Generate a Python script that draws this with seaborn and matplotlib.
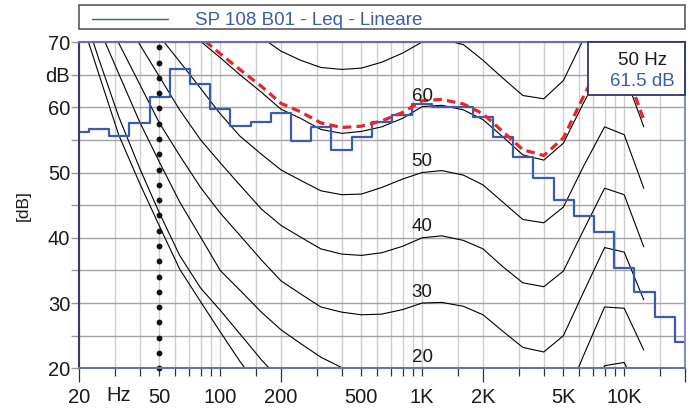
import numpy as np
import pandas as pd
import matplotlib
matplotlib.use("Agg")
import matplotlib.pyplot as plt
from matplotlib.patches import Rectangle
from matplotlib.lines import Line2D
from matplotlib.ticker import FixedLocator, FixedFormatter
import seaborn as sns

# ---------------- data ----------------
FREQ = [20, 25, 31.5, 40, 50, 63, 80, 100, 125, 160, 200, 250, 315, 400, 500,
        630, 800, 1000, 1250, 1600, 2000, 2500, 3150, 4000, 5000, 6300, 8000,
        10000, 12500]

CONTOUR_PHON = [0, 10, 20, 30, 40, 50, 60, 70]
C0 = [74.5, 65.2, 55.7, 48.3, 41.8, 35.2, 30.2, 25.6, 21.1, 16.6, 13.3, 10.5, 8.0,
      5.0, 3.8, 2.5, 1.2, 0.0, 0.2, -0.5, -1.8, -4.3, -6.8, -7.5, -5.5, 2.5, 11.0,
      11.8, 5.5]
C10 = [76.7, 67.5, 58.5, 50.6, 43.8, 37.3, 32.3, 28.9, 25.3, 21.3, 18.1, 16.0, 14.2,
       12.8, 11.8, 11.0, 10.4, 10.0, 10.1, 9.5, 8.2, 5.7, 3.2, 2.5, 4.5, 12.5, 20.4,
       20.9, 14.5]
C20 = [79.9, 72.3, 65.1, 57.7, 51.6, 45.5, 40.1, 35.0, 32.0, 28.6, 25.9, 23.8, 21.7,
       20.1, 19.6, 19.4, 19.6, 20.1, 20.1, 19.5, 18.2, 15.7, 13.2, 12.5, 14.5, 22.0,
       29.4, 29.2, 22.8]
C30 = [82.5, 76.0, 69.8, 63.5, 57.6, 52.6, 47.7, 43.8, 40.4, 36.6, 33.4, 31.4, 29.4,
       28.6, 28.2, 28.3, 29.0, 30.0, 30.1, 29.5, 28.2, 25.7, 23.2, 22.5, 25.0, 31.7,
       38.5, 37.8, 30.5]
C40 = [86.5, 80.7, 75.0, 69.6, 64.7, 59.6, 55.0, 51.5, 48.1, 44.4, 41.9, 40.1, 38.3,
       37.5, 37.3, 37.7, 38.7, 40.0, 40.3, 39.6, 38.3, 35.6, 33.1, 32.5, 34.9, 41.2,
       47.6, 46.6, 38.6]
C50 = [89.5, 84.4, 79.5, 74.9, 70.9, 67.0, 62.9, 59.0, 55.6, 52.8, 50.4, 48.8, 47.2,
       46.6, 46.7, 47.7, 49.0, 50.0, 50.3, 49.6, 48.1, 45.5, 42.8, 42.3, 44.7, 51.0,
       57.0, 55.8, 47.6]
C60 = [95.0, 90.5, 86.0, 81.7, 77.8, 74.0, 70.1, 67.6, 65.0, 62.3, 59.7, 58.3, 56.6,
       56.0, 56.3, 57.0, 58.3, 60.1, 60.3, 59.6, 58.1, 55.5, 52.7, 51.9, 54.5, 60.7,
       66.8, 65.2, 57.0]
C70 = [100.0, 97.0, 93.5, 89.5, 86.0, 82.0, 78.5, 75.5, 73.0, 70.7, 68.6, 67.2, 66.1,
       65.8, 66.0, 66.9, 68.3, 70.0, 70.4, 69.6, 67.2, 64.5, 61.8, 61.3, 64.1, 70.5,
       76.0, 75.0, 66.5]
CONTOURS = [C0, C10, C20, C30, C40, C50, C60, C70]

# contour matching the measured spectrum (red dashed)
MATCH_CURVE = [96.0, 91.5, 87.0, 82.7, 78.8, 74.7, 70.7, 68.2, 65.8, 63.2, 60.6, 59.3,
               57.6, 56.9, 57.1, 57.9, 59.2, 61.0, 61.2, 60.5, 59.0, 56.3, 53.5, 52.6,
               55.3, 61.7, 68.0, 66.3, 58.1]

SPEC_FREQ = FREQ + [16000, 20000]
SPEC_LEVEL = [56.2, 56.7, 55.6, 57.6, 61.5, 65.8, 63.5, 59.7, 57.1, 57.8, 59.1, 54.8,
              56.9, 53.4, 55.5, 57.7, 58.8, 60.5, 60.1, 60.1, 58.5, 55.5, 52.4, 49.1,
              45.8, 43.4, 40.9, 35.3, 31.7, 27.9, 24.1]

LEGEND_LABEL = "SP 108 B01 - Leq - Lineare"
CURSOR_FREQ = 50
CURSOR_LEVEL = 61.5
LABELED_PHON = [20, 30, 40, 50, 60]

X_MAJOR = [20, 200, 2000, 20000]
X_MAJOR_LABELS = ["20", "200", "2K", ""]
X_MINOR = [30, 40, 50, 60, 70, 80, 90, 100, 150, 300, 400, 500, 600, 700, 800, 900,
           1000, 1500, 3000, 4000, 5000, 6000, 7000, 8000, 9000, 10000, 15000]
X_MINOR_LABELS = ["", "", "50", "", "", "", "", "100", "", "", "", "500", "", "", "",
                  "", "1K", "", "", "", "5K", "", "", "", "", "10K", ""]
Y_TICKS = [20, 25, 30, 35, 40, 45, 50, 55, 60, 65, 70]
Y_LABELS = ["20", "", "30", "", "40", "", "50", "", "60", "dB", "70"]

# ---------------- style ----------------
BLUE = "#3b5bab"
RED = "#e8242c"
sns.set_theme(style="white")
plt.rcParams["font.family"] = ["Liberation Sans", "DejaVu Sans"]

W, H = 695, 412
fig = plt.figure(figsize=(W / 100, H / 100), dpi=100, facecolor="white")
ax_l, ax_r, ax_t, ax_b = 79, 685, 42, 368.3
ax = fig.add_axes([ax_l / W, 1 - ax_b / H, (ax_r - ax_l) / W, (ax_b - ax_t) / H])
ax.set_facecolor("white")
ax.set_xscale("log")
ax.set_xlim(20, 20000)
ax.set_ylim(20, 70)

# equal loudness contours
rows = []
for phon, vals in zip(CONTOUR_PHON, CONTOURS):
    for f, v in zip(FREQ, vals):
        rows.append((phon, f, v))
df = pd.DataFrame(rows, columns=["phon", "freq", "level"])
sns.lineplot(data=df, x="freq", y="level", units="phon", estimator=None, sort=False,
             color="black", lw=0.8, ax=ax, legend=False, zorder=2)

# spectrum (1/3 octave steps)
edges = [SPEC_FREQ[0] / 2 ** (1 / 6)]
edges += [np.sqrt(a * b) for a, b in zip(SPEC_FREQ[:-1], SPEC_FREQ[1:])]
edges += [SPEC_FREQ[-1] * 2 ** (1 / 6)]
step_y = SPEC_LEVEL + [SPEC_LEVEL[-1]]
sns.lineplot(x=edges, y=step_y, estimator=None, sort=False, drawstyle="steps-post",
             color=BLUE, lw=1.6, ax=ax, zorder=3)

# matching contour, red dashed
n_before = len(ax.lines)
sns.lineplot(x=FREQ, y=MATCH_CURVE, estimator=None, sort=False, color=RED, lw=2.3,
             ax=ax, zorder=4)
for ln in ax.lines[n_before:]:
    ln.set_linestyle((0, (2.7, 1.6)))
    ln.set_dash_capstyle("butt")

# cursor dotted line (round dots every ~15 px from the bottom)
dot_y = np.arange(20, 70.01, 2.342)
ax.plot(np.full(len(dot_y), CURSOR_FREQ), dot_y, linestyle="none", marker="o",
        markersize=4.2, markeredgewidth=0, color="#111111", zorder=5, clip_on=False)

# contour labels
for phon in LABELED_PHON:
    ax.text(1000, phon + 1.0, str(phon), ha="center", va="baseline",
            fontsize=13.5, color="#1a1a1a", zorder=6)

# ticks and grid
ax.xaxis.set_major_locator(FixedLocator(X_MAJOR))
ax.xaxis.set_major_formatter(FixedFormatter(X_MAJOR_LABELS))
ax.xaxis.set_minor_locator(FixedLocator(X_MINOR))
ax.xaxis.set_minor_formatter(FixedFormatter(X_MINOR_LABELS))
ax.set_yticks(Y_TICKS)
ax.set_yticklabels(Y_LABELS)
ax.tick_params(axis="x", which="major", length=10, width=0.9, color="#333333",
               pad=4.3, labelsize=14.5, labelcolor="#1a1a1a", bottom=True)
ax.tick_params(axis="x", which="minor", length=5.4, width=0.9, color="#333333",
               pad=9.0, labelsize=14.5, labelcolor="#1a1a1a", bottom=True)
ax.tick_params(axis="y", which="major", length=5.8, width=1.0, color="#9a9a9a",
               pad=0.5, labelsize=14.5, labelcolor="#1a1a1a", left=True)
ax.grid(True, axis="x", which="both", color="#cdcdcd", lw=1.0)
ax.grid(True, axis="y", which="major", color="#a3a3a3", lw=1.0)
ax.set_axisbelow(True)
ax.set_xlabel("")
ax.set_ylabel("[dB]", fontsize=12.5, color="#1a1a1a")
ax.yaxis.set_label_coords(-0.079, 0.5)
ax.text(31.6, -0.082, "Hz", transform=ax.get_xaxis_transform(), ha="center",
        va="center", fontsize=14.5, color="#1a1a1a")

# spines
spine_cols = {"left": "#3a3a66", "top": "#6a6fae", "bottom": "#6a6fae", "right": "#8a8cc8"}
for side, col in spine_cols.items():
    ax.spines[side].set_visible(True)
    ax.spines[side].set_color(col)
    ax.spines[side].set_linewidth(1.5)
    ax.spines[side].set_zorder(7)

# cursor readout box
ax.add_patch(Rectangle((0.8404, 0.8376), 0.1596, 0.1624, transform=ax.transAxes,
                       facecolor="white", edgecolor="#2f3470", lw=1.3, zorder=10,
                       clip_on=False))
ax.text(0.9295, 0.9295, f"{CURSOR_FREQ} Hz", transform=ax.transAxes, ha="center",
        va="baseline", fontsize=13.5, color="#1a1a1a", zorder=11)
ax.text(0.9295, 0.8652, f"{CURSOR_LEVEL} dB", transform=ax.transAxes, ha="center",
        va="baseline", fontsize=13.5, color=BLUE, zorder=11)

# legend box on top
fig.add_artist(Rectangle((ax_l / W, 1 - 29.3 / H), (ax_r - ax_l) / W, 24.3 / H,
                         transform=fig.transFigure, fill=False, edgecolor="#4d4d4d",
                         lw=1.1))
fig.add_artist(Line2D([91.7 / W, 168.3 / W], [1 - 19.3 / H] * 2,
                      transform=fig.transFigure, color=BLUE, lw=1.0))
fig.text(195 / W, 1 - 25.0 / H, LEGEND_LABEL, color=BLUE, fontsize=13.5,
         va="baseline", ha="left")

fig.savefig("out.png", dpi=100, facecolor="white")
